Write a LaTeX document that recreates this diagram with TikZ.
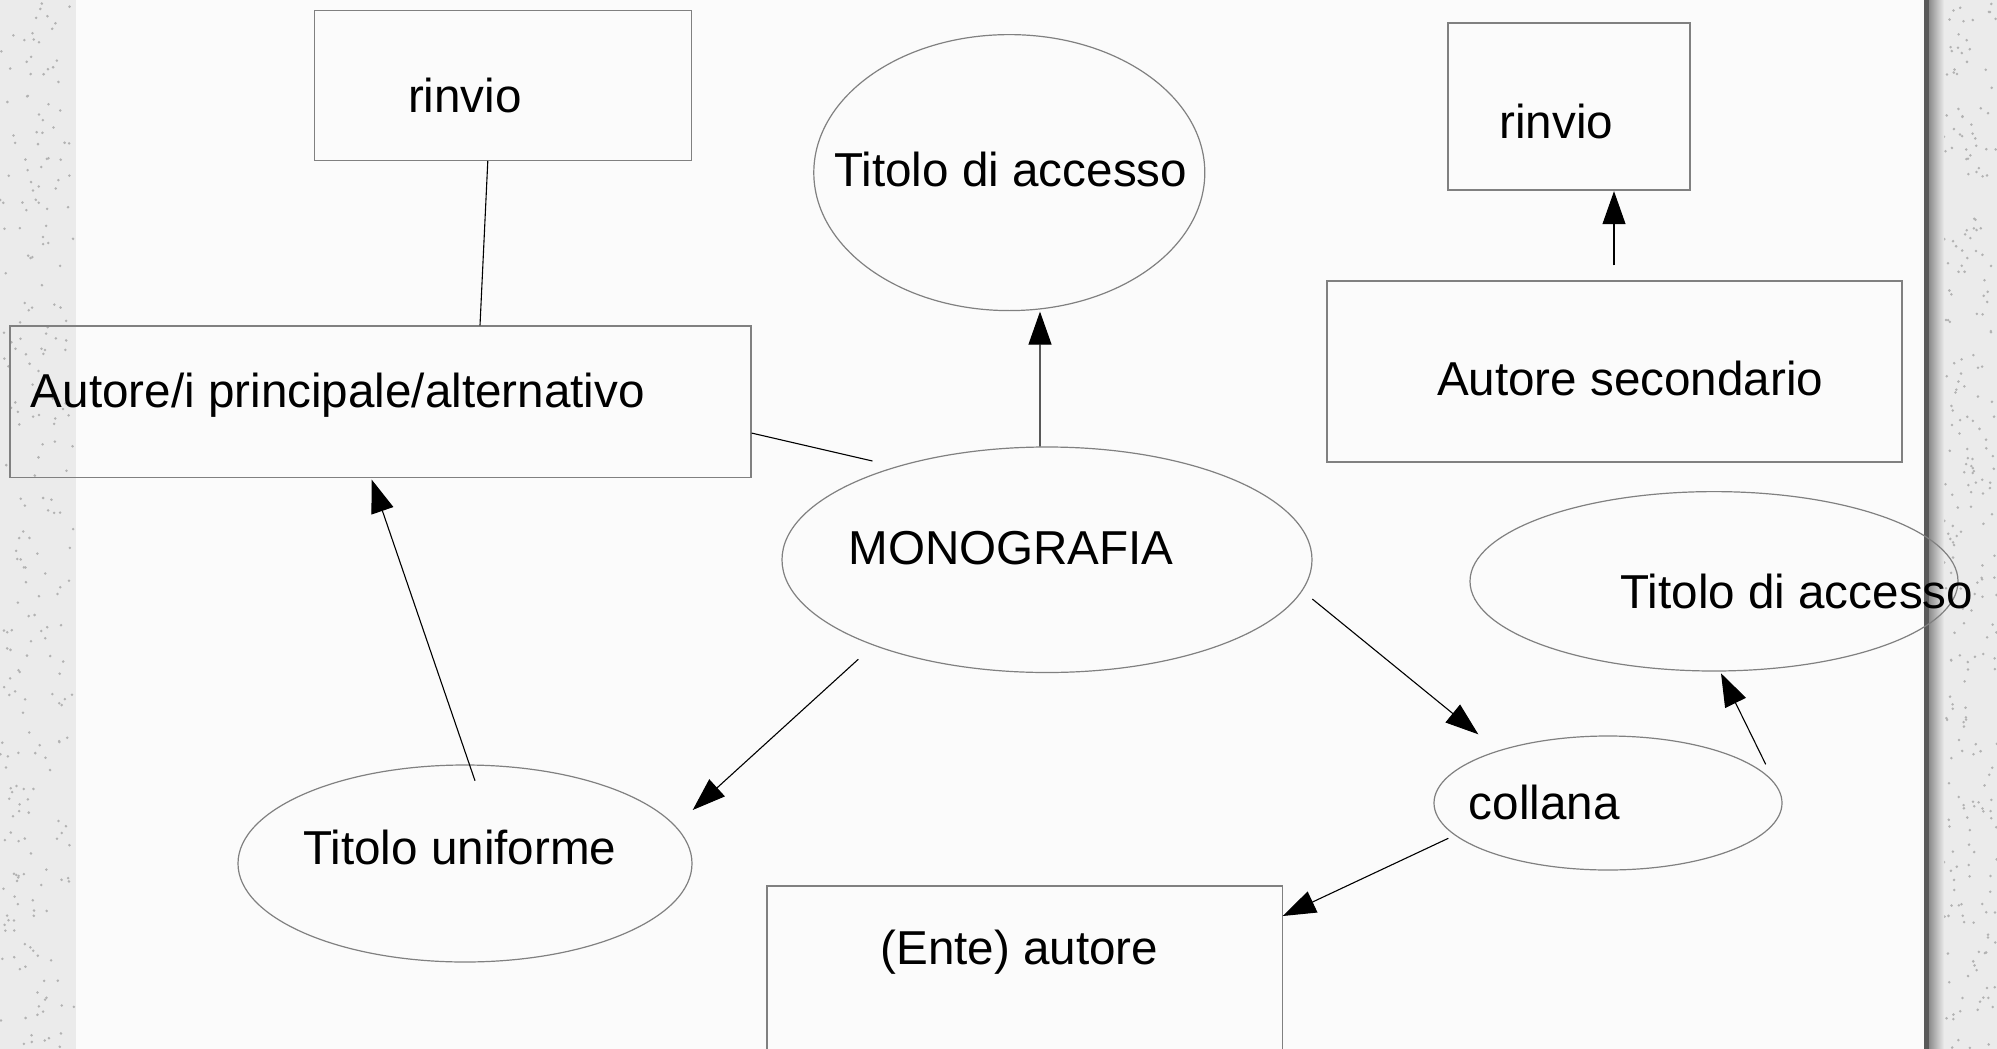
\documentclass[tikz,border=0pt]{standalone}
\usepackage{fontspec}
\setmainfont{Liberation Sans}
\usetikzlibrary{shapes.geometric,arrows.meta,calc}
\definecolor{sidebg}{HTML}{EBEBEB}
\definecolor{panelbg}{HTML}{FBFBFB}
\definecolor{shapeline}{HTML}{808080}
\begin{document}
\begin{tikzpicture}[x=0.5pt,y=-0.5pt,
  shapebox/.style={draw=shapeline,line width=0.6pt,rectangle,inner sep=0pt},
  shapeell/.style={draw=shapeline,line width=0.6pt,ellipse,inner sep=0pt},
  lbl/.style={anchor=west,inner sep=0pt,font=\fontsize{23.8pt}{28pt}\selectfont},
  conn/.style={draw=black,line width=0.55pt},
  arr/.style={conn,-{Triangle[length=16.5pt,width=11.5pt]}},
  speck/.style={fill=black!30}]
\useasboundingbox (0,0) rectangle (1997,1049);
\clip (0,0) rectangle (1997,1049);
% background
\fill[sidebg] (0,0) rectangle (1997,1049);
\pgfmathsetseed{7}
\foreach \i in {1,...,260} {
  \pgfmathsetmacro{\xa}{rnd*74}
  \pgfmathsetmacro{\ya}{rnd*1049}
  \fill[speck] (\xa,\ya) circle[radius=0.7pt];
  \pgfmathsetmacro{\xb}{1944+rnd*53}
  \pgfmathsetmacro{\yb}{rnd*1049}
  \fill[speck] (\xb,\yb) circle[radius=0.7pt];
}
\fill[panelbg] (76,0) rectangle (1924,1049);
\fill[black!65] (1924,0) rectangle (1929,1049);
\shade[left color=black!45, right color=sidebg] (1929,0) rectangle (1944,1049);
% shapes
\node[shapebox,minimum width=188.5pt,minimum height=75pt] (r1) at (503,85.4) {};
\node[shapeell,minimum width=195.5pt,minimum height=138pt] (t1) at (1009.3,172.6) {};
\node[shapebox,minimum width=121pt,minimum height=83.5pt] (r2) at (1569,106.4) {};
\node[shapebox,minimum width=287.5pt,minimum height=90.5pt] (s1) at (1614.5,371.5) {};
\node[shapebox,minimum width=370.5pt,minimum height=75.75pt] (a1) at (380.5,401.75) {};
\node[shapeell,minimum width=265pt,minimum height=112.75pt] (mono) at (1047,559.75) {};
\node[shapeell,minimum width=244pt,minimum height=89.7pt] (t2) at (1714,581.3) {};
\node[shapeell,minimum width=174pt,minimum height=67pt] (coll) at (1608,803) {};
\node[shapeell,minimum width=227pt,minimum height=98.5pt] (tu) at (465,863.5) {};
\node[shapebox,minimum width=257.75pt,minimum height=107pt] (ente) at (1024.75,993) {};
% labels
\node[lbl] (r1t) at (407.6,95.5) {rinvio};
\node[lbl] (t1t) at (834,169.4) {Titolo di accesso};
\node[lbl] (r2t) at (1499,121) {rinvio};
\node[lbl] (s1t) at (1436.6,378.3) {Autore secondario};
\node[lbl] (a1t) at (30.6,394.8) {Autore/i principale/alternativo};
\node[lbl] (monot) at (848,548.3) {MONOGRAFIA};
\node[lbl] (t2t) at (1620,591) {Titolo di accesso};
\node[lbl] (collt) at (1468.5,802.4) {collana};
\node[lbl] (tut) at (303,847) {Titolo uniforme};
\node[lbl] (entet) at (880,952.6) {(Ente) autore};
% connectors
\draw[conn] ($(r1.south)+(-15.2,0)$) -- ($(a1.north)+(99.5,0)$);
\draw[conn] ($(a1.east)+(0,31.3)$) -- ($(mono.center)+(-174.6,-98.75)$);
\draw[arr] ($(mono.north)+(-7,0)$) -- ($(t1.center)+(30.7,139)$);
\draw[arr] ($(s1.north)+(-0.5,-15)$) -- ($(r2.south)+(45,0.7)$);
\draw[arr] ($(tu.center)+(10,-82.8)$) -- ($(a1.south)+(-8.8,1.5)$);
\draw[arr] ($(mono.center)+(-188.7,99.5)$) -- ($(tu.center)+(227.7,-53.5)$);
\draw[arr] ($(mono.center)+(265.3,39.25)$) -- ($(coll.center)+(-129.7,-68.7)$);
\draw[arr] ($(coll.center)+(157.7,-38.7)$) -- ($(t2.center)+(7,92)$);
\draw[arr] ($(coll.center)+(-159.7,35.3)$) -- ($(ente.center)+(257.95,-77)$);
\end{tikzpicture}
\end{document}
